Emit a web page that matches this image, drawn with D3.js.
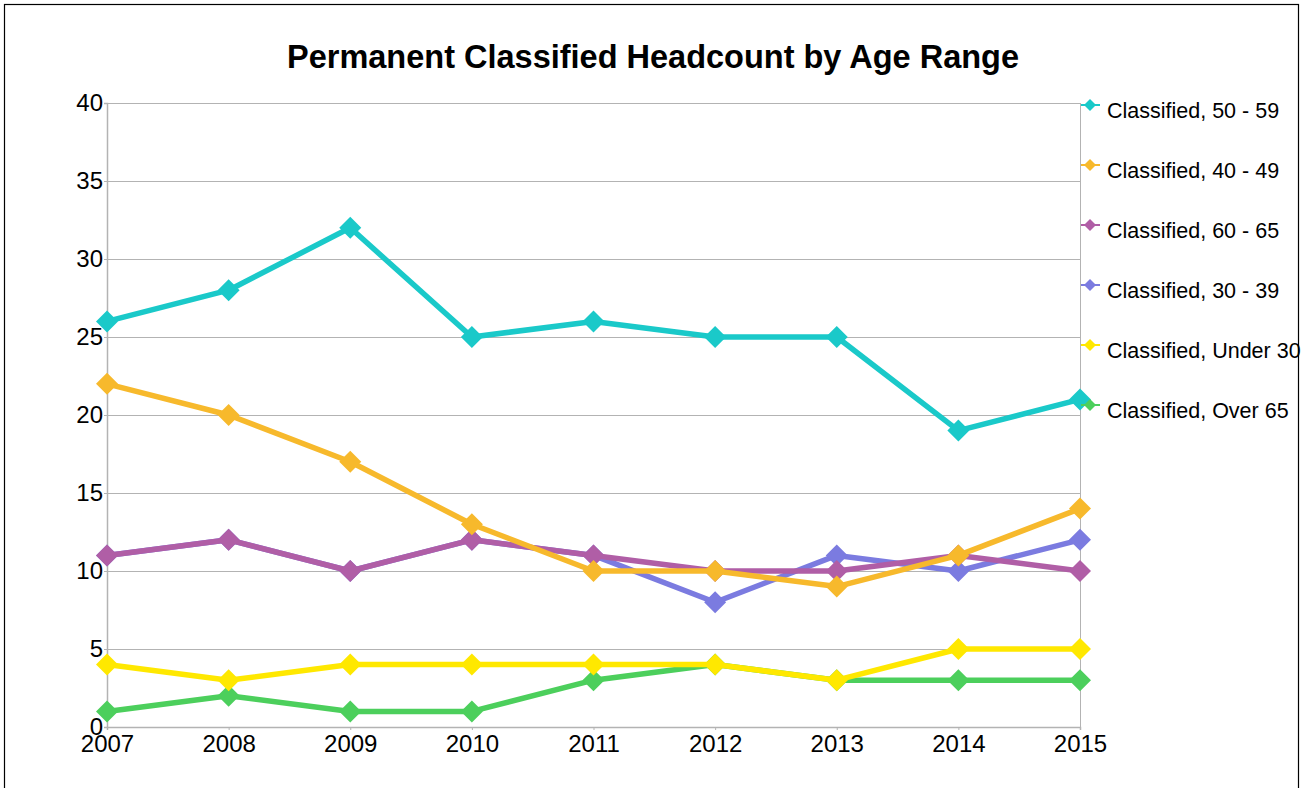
<!DOCTYPE html>
<html>
<head>
<meta charset="utf-8">
<script src="https://cdn.jsdelivr.net/npm/d3@7"></script>
<style>
  body { margin: 0; background: #fff; }
  svg { font-family: 'Liberation Sans', Arial, sans-serif; }
</style>
</head>
<body>
<svg class="chart" width="1307" height="788"></svg>
<script>
// Data
const years = ['2007', '2008', '2009', '2010', '2011', '2012', '2013', '2014', '2015']
const yTicks = [0, 5, 10, 15, 20, 25, 30, 35, 40]

const age50to59 = [26, 28, 32, 25, 26, 25, 25, 19, 21]
const age40to49 = [22, 20, 17, 13, 10, 10, 9, 11, 14]
const age60to65 = [11, 12, 10, 12, 11, 10, 10, 11, 10]
const age30to39 = [11, 12, 10, 12, 11, 8, 11, 10, 12]
const under30 = [4, 3, 4, 4, 4, 4, 3, 5, 5]
const over65 = [1, 2, 1, 1, 3, 4, 3, 3, 3]

const series = [
	{ name: 'Classified, 50 - 59', values: age50to59, color: '#1ac9c9' },
	{ name: 'Classified, 40 - 49', values: age40to49, color: '#f7b92c' },
	{ name: 'Classified, 60 - 65', values: age60to65, color: '#b05ea6' },
	{ name: 'Classified, 30 - 39', values: age30to39, color: '#7b7be0' },
	{ name: 'Classified, Under 30', values: under30, color: '#ffe800' },
	{ name: 'Classified, Over 65', values: over65, color: '#4ccf5c' },
]

const svg = d3.select('svg.chart')
const plot = { left: 107, top: 103, right: 1080, bottom: 727 }

// outer frame
svg.append('rect')
	.attr('x', 4.5).attr('y', 4.5)
	.attr('width', 1294).attr('height', 800)
	.attr('fill', 'none').attr('stroke', '#000').attr('stroke-width', 1.2)

svg.append('text')
	.attr('x', 653).attr('y', 68)
	.attr('text-anchor', 'middle')
	.attr('font-size', 32.5).attr('font-weight', 'bold')
	.text('Permanent Classified Headcount by Age Range')

const x = d3.scalePoint().domain(years).range([plot.left, plot.right])
const y = d3.scaleLinear().domain([0, 40]).range([plot.bottom, plot.top])

// grid
svg.append('g').selectAll('line')
		.data(yTicks)
	.enter().append('line')
		.attr('x1', plot.left).attr('x2', plot.right)
		.attr('y1', d => y(d) + 0.5).attr('y2', d => y(d) + 0.5)
		.attr('stroke', '#b3b3b3').attr('stroke-width', 1)

svg.append('line')
	.attr('x1', plot.right + 0.5).attr('x2', plot.right + 0.5)
	.attr('y1', plot.top).attr('y2', plot.bottom)
	.attr('stroke', '#b3b3b3')

// axes
const yAxis = svg.append('g')
	.attr('transform', `translate(${plot.left},0)`)
	.call(d3.axisLeft(y).tickValues(yTicks).tickSize(3).tickPadding(1))
yAxis.select('.domain').attr('stroke', '#b3b3b3').attr('stroke-width', 1.5)
yAxis.selectAll('.tick line').attr('stroke', '#b3b3b3')
yAxis.selectAll('text').attr('font-size', 24).attr('fill', '#000')
	.attr('font-family', 'Liberation Sans, Arial, sans-serif')

const xAxis = svg.append('g')
	.attr('transform', `translate(0,${plot.bottom})`)
	.call(d3.axisBottom(x).tickSize(3).tickPadding(5))
xAxis.select('.domain').attr('stroke', '#b3b3b3').attr('stroke-width', 1.5)
xAxis.selectAll('.tick line').attr('stroke', '#b3b3b3')
xAxis.selectAll('text').attr('font-size', 24).attr('fill', '#000')
	.attr('font-family', 'Liberation Sans, Arial, sans-serif')

// lines + markers (drawn bottom-up so the top legend entry ends on top)
const line = d3.line().x((d, i) => x(years[i])).y(d => y(d))
const diamond = (cx, cy, r) => `M${cx},${cy - r}L${cx + r},${cy}L${cx},${cy + r}L${cx - r},${cy}Z`

const g = svg.append('g')
series.slice().reverse().forEach(s => {
	g.append('path')
		.attr('d', line(s.values))
		.attr('fill', 'none')
		.attr('stroke', s.color)
		.attr('stroke-width', 5.5)
		.attr('stroke-linejoin', 'round')
	g.selectAll(null)
			.data(s.values)
		.enter().append('path')
			.attr('d', (d, i) => diamond(x(years[i]), y(d), 11))
			.attr('fill', s.color)
})

// legend
const legend = svg.append('g')
series.forEach((s, i) => {
	const ly = 105 + i * 60
	legend.append('line')
		.attr('x1', 1081).attr('x2', 1100)
		.attr('y1', ly).attr('y2', ly)
		.attr('stroke', s.color).attr('stroke-width', 2)
	legend.append('path')
		.attr('d', diamond(1090, ly, 6))
		.attr('fill', s.color)
	legend.append('text')
		.attr('x', 1107).attr('y', ly + 13)
		.attr('font-size', 21.5)
		.text(s.name)
})
</script>
</body>
</html>
